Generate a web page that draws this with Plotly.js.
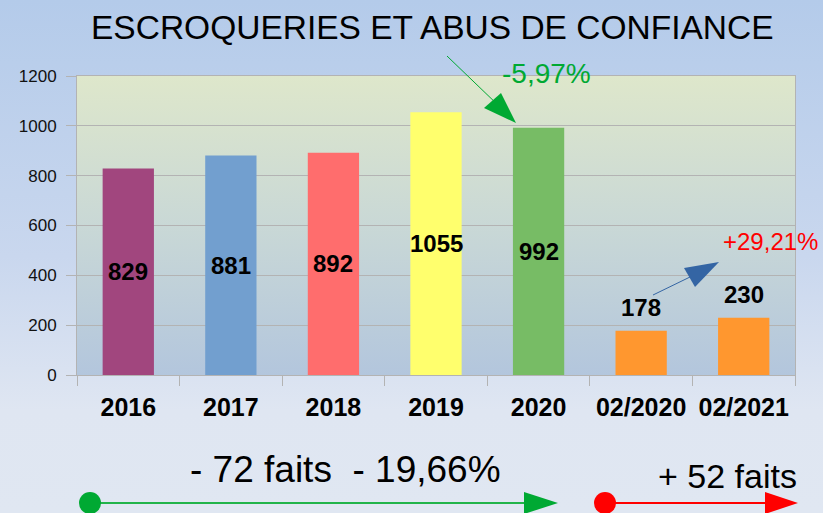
<!DOCTYPE html>
<html>
<head>
<meta charset="utf-8">
<script src="https://cdn.plot.ly/plotly-3.0.1.min.js"></script>
<style>
  html, body { margin:0; padding:0; }
  #wrap { position:relative; width:823px; height:513px; overflow:hidden;
          background: linear-gradient(to bottom, #b4cbea 0%, #c9d7ee 50%, #dfe6f2 80%, #e0e7f2 100%); }
  #plotbg { position:absolute; left:77px; top:76px; width:718px; height:299px;
            background: linear-gradient(to bottom, #dee7cb 0%, #c9d8d6 50%, #b3c6dd 100%); }
  #chart { position:absolute; left:0; top:0; width:823px; height:513px; }
</style>
</head>
<body>
<div id="wrap"><div id="plotbg"></div><div id="chart"></div></div>
<script>
const categories = ['2016', '2017', '2018', '2019', '2020', '02/2020', '02/2021'];
const values = [829, 881, 892, 1055, 992, 178, 230];
const barColors = ['#a1467e', '#729fcf', '#ff6d6d', '#ffff6d', '#77bc65', '#ff972f', '#ff972f'];
const yTicks = [0, 200, 400, 600, 800, 1000, 1200];
const titleText = 'ESCROQUERIES ET ABUS DE CONFIANCE';
const changeYear = '-5,97%';
const changeMonth = '+29,21%';
const noteYears = '- 72 faits\u00a0\u00a0- 19,66%';
const noteMonth = '+ 52 faits';

const W = 823, H = 513, L = 77, T = 76, PW = 718, PH = 299;
const px = x => (x - L) / PW;
const py = y => (T + PH - y) / PH;
const FONT = 'Liberation Sans, Arial, sans-serif';

const trace = {
  type: 'bar', x: categories, y: values,
  marker: { color: barColors, line: { width: 0 } },
  hoverinfo: 'none'
};

const annotations = [];
values.forEach((v, i) => {
  const inside = v > 400;
  annotations.push({
    xref: 'x', yref: 'y', x: i, y: inside ? v / 2 : v,
    yanchor: inside ? 'middle' : 'bottom', yshift: inside ? 0 : 8,
    text: String(v), showarrow: false,
    font: { family: FONT, size: 24, color: '#000', weight: 'bold' }
  });
});
annotations.push(
  { xref: 'paper', yref: 'paper', x: px(432), y: py(27), xanchor: 'center', yanchor: 'middle',
    text: titleText, showarrow: false, font: { family: FONT, size: 33.5, color: '#000' } },
  { xref: 'paper', yref: 'paper', x: px(546), y: py(73), xanchor: 'center', yanchor: 'middle',
    text: changeYear, showarrow: false, font: { family: FONT, size: 28, color: '#00a933' } },
  { xref: 'paper', yref: 'paper', x: px(721), y: py(241), xanchor: 'left', yanchor: 'middle',
    text: changeMonth, showarrow: false, font: { family: FONT, size: 24, color: '#ff0000' } },
  { xref: 'paper', yref: 'paper', x: px(188), y: py(469), xanchor: 'left', yanchor: 'middle',
    text: noteYears, showarrow: false, font: { family: FONT, size: 37, color: '#000' } },
  { xref: 'paper', yref: 'paper', x: px(656), y: py(476), xanchor: 'left', yanchor: 'middle',
    text: noteMonth, showarrow: false, font: { family: FONT, size: 34, color: '#000' } }
);

function tri(a, b, c) {
  return 'M ' + px(a[0]) + ' ' + py(a[1]) + ' L ' + px(b[0]) + ' ' + py(b[1]) +
         ' L ' + px(c[0]) + ' ' + py(c[1]) + ' Z';
}
function line(x0, y0, x1, y1, color, w) {
  return { type: 'line', xref: 'paper', yref: 'paper', x0: px(x0), y0: py(y0), x1: px(x1), y1: py(y1),
           line: { color: color, width: w } };
}
function circle(cx, cy, r, color) {
  return { type: 'circle', xref: 'paper', yref: 'paper', x0: px(cx - r), x1: px(cx + r),
           y0: py(cy + r), y1: py(cy - r), fillcolor: color, line: { width: 0 } };
}
function triangle(a, b, c, color) {
  return { type: 'path', xref: 'paper', yref: 'paper', path: tri(a, b, c), fillcolor: color, line: { width: 0 } };
}

const shapes = [
  line(447, 56, 500, 107, '#00a933', 1),
  triangle([516, 123], [484, 108], [501, 93], '#00a933'),
  line(653, 295, 690, 277, '#3465a4', 1),
  triangle([719, 262], [684, 268], [695, 287], '#3465a4'),
  line(90, 503, 526, 503, '#22b44a', 2),
  circle(90, 503, 11, '#00a933'),
  triangle([558, 503], [524, 492], [524, 514], '#00a933'),
  line(605, 503, 767, 503, '#ff0000', 2),
  circle(605, 503, 11, '#ff0000'),
  triangle([798, 503], [765, 492], [765, 514], '#ff0000')
];

const layout = {
  width: W, height: H,
  margin: { l: L, r: W - L - PW, t: T, b: H - T - PH, pad: 0 },
  paper_bgcolor: 'rgba(0,0,0,0)', plot_bgcolor: 'rgba(0,0,0,0)',
  showlegend: false, bargap: 0.5,
  font: { family: FONT, color: '#000' },
  xaxis: {
    type: 'category', categoryorder: 'array', categoryarray: categories,
    range: [-0.5, categories.length - 0.5], autorange: false, tickangle: 0,
    tickson: 'boundaries', ticks: 'outside', ticklen: 10, tickwidth: 1, tickcolor: '#b3b3b3',
    showline: true, linecolor: '#b3b3b3', linewidth: 1, mirror: true, showgrid: false,
    tickfont: { family: FONT, size: 25, color: '#000', weight: 'bold' }, ticklabelstandoff: 10
  },
  yaxis: {
    range: [0, 1200], autorange: false, tickvals: yTicks, ticktext: yTicks.map(String),
    ticks: 'outside', ticklen: 10, tickwidth: 1, tickcolor: '#b3b3b3',
    showline: true, linecolor: '#b3b3b3', linewidth: 1, mirror: true,
    showgrid: true, gridcolor: '#b3b3b3', gridwidth: 1, zeroline: false,
    tickfont: { family: FONT, size: 17, color: '#111' }, ticklabelstandoff: 6
  },
  annotations: annotations,
  shapes: shapes
};

Plotly.newPlot('chart', [trace], layout, { staticPlot: true, displayModeBar: false });
</script>
</body>
</html>
